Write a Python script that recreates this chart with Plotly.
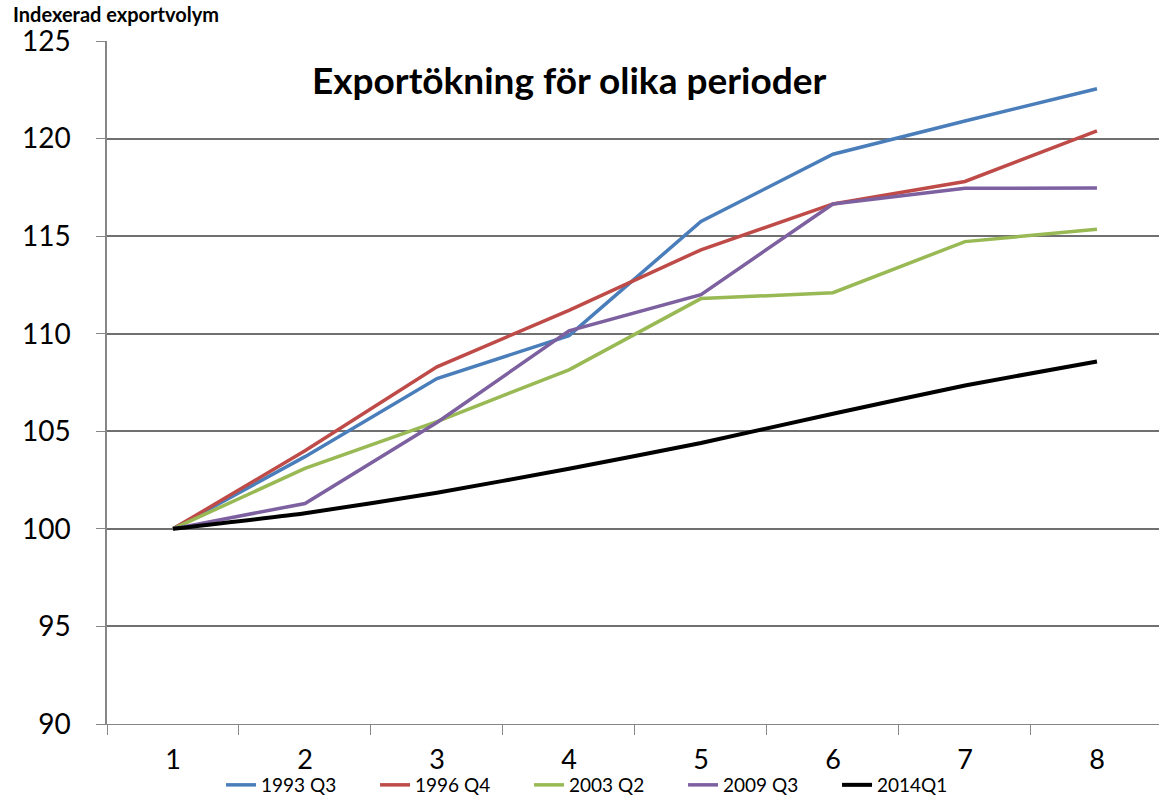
import plotly.graph_objects as go

periods = ["1", "2", "3", "4", "5", "6", "7", "8"]
series_names = ["1993 Q3", "1996 Q4", "2003 Q2", "2009 Q3", "2014Q1"]
s1993 = [100, 103.7, 107.7, 109.9, 115.75, 119.2, 120.9, 122.55]
s1996 = [100, 104.0, 108.3, 111.2, 114.3, 116.65, 117.8, 120.4]
s2003 = [100, 103.1, 105.5, 108.15, 111.8, 112.1, 114.72, 115.35]
s2009 = [100, 101.3, 105.45, 110.15, 112.0, 116.65, 117.45, 117.47]
s2014 = [100, 100.8, 101.85, 103.08, 104.4, 105.9, 107.35, 108.58]
colors = ["#4A7EBB", "#BE4B48", "#98B954", "#7D60A0", "#000000"]

fig = go.Figure()
for name, vals, col in zip(series_names, [s1993, s1996, s2003, s2009, s2014], colors):
    fig.add_trace(go.Scatter(
        x=periods, y=vals, name=name, mode="lines",
        line=dict(color=col, width=4 if col == "#000000" else 3.5,
                  shape="spline" if col == "#000000" else "linear", smoothing=0.4),
    ))

FONT = "Lato"
fig.update_layout(
    width=1159, height=798,
    margin=dict(l=107, r=0, t=41, b=74, autoexpand=False),
    paper_bgcolor="white", plot_bgcolor="white",
    font=dict(family=FONT, color="black"),
    showlegend=True,
    legend=dict(orientation="h", x=0.1084, xanchor="left",
                yref="container", y=(798 - 785) / 798, yanchor="middle",
                font=dict(family=FONT, size=19, color="black"),
                itemwidth=30, entrywidth=109, entrywidthmode="pixels",
                bgcolor="rgba(0,0,0,0)"),
    xaxis=dict(type="category", range=[-0.5, 7.47], tickson="boundaries",
               ticks="outside", ticklen=10, tickcolor="#868686", tickwidth=1,
               showline=True, linecolor="#868686", linewidth=1,
               showgrid=False, tickfont=dict(family=FONT, size=27, color="black"),
               ticklabelstandoff=12, automargin=False),
    yaxis=dict(range=[90, 125], tickvals=[90, 95, 100, 105, 110, 115, 120, 125],
               ticks="outside", ticklen=9, tickcolor="#868686", tickwidth=1,
               showline=True, linecolor="#868686", linewidth=1.5,
               showgrid=True, gridcolor="#707070", gridwidth=2, zeroline=False,
               tickfont=dict(family=FONT, size=28, color="black"),
               ticklabelstandoff=20, automargin=False),
    annotations=[
        dict(text="<b>Exportökning för olika perioder</b>", xref="paper", yref="paper",
             x=0.439, y=0.943, xanchor="center", yanchor="middle", showarrow=False,
             font=dict(family=FONT, size=37, color="black")),
        dict(text="<b>Indexerad exportvolym</b>", xref="paper", yref="paper",
             x=-0.091, y=1.039, xanchor="left", yanchor="middle", showarrow=False,
             font=dict(family=FONT, size=20, color="black")),
    ],
)

fig.write_html("out.html", config={"displayModeBar": False},
               post_script="document.body.style.margin='0px';document.body.style.overflow='hidden';")
